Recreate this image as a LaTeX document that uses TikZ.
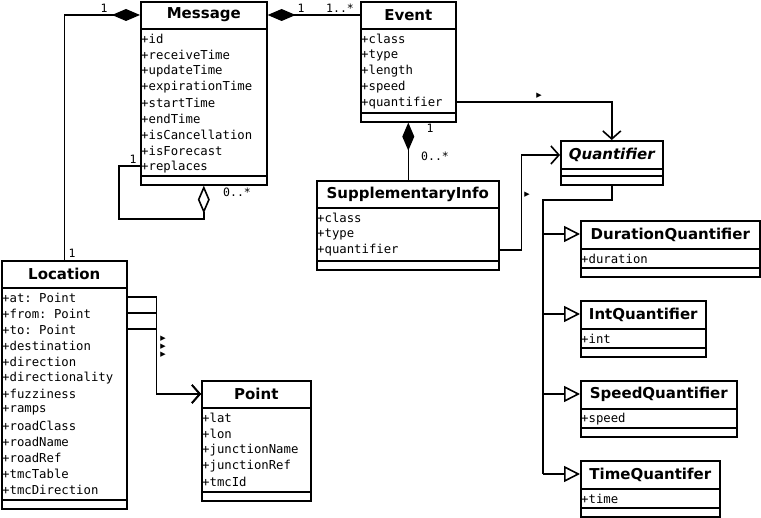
\documentclass[tikz,border=0pt]{standalone}
\usepackage{fontspec}
\setsansfont{DejaVu Sans}
\setmonofont{DejaVu Sans Mono}
\usetikzlibrary{arrows.meta}

\tikzset{
  cls/.style={draw, line width=1.6pt, anchor=north west, inner sep=0pt},
  ttl/.style={font=\sffamily\bfseries\fontsize{15}{15}\selectfont},
  attr/.style={anchor=west, inner sep=1pt, font=\ttfamily\fontsize{12.3}{12}\selectfont},
  mult/.style={font=\ttfamily\fontsize{11.5}{11}\selectfont, inner sep=0pt},
  nav/.style={font=\sffamily\fontsize{7}{7}\selectfont, inner sep=0pt},
  link/.style={line width=1.6pt},
  comp/.style={link, {Diamond[length=28pt,width=12pt]}-},
  aggr/.style={link, -{Diamond[open,length=28pt,width=12pt]}},
  assoc/.style={link, -{Straight Barb[length=8pt,width=18pt]}},
  gen/.style={link, -{Triangle[open,length=16pt,width=16pt]}},
}

% #1 name, #2 x, #3 y, #4 width, #5 title height, #6 attribute height, #7 title, #8 attributes
\newcommand{\umlclass}[8]{%
  \node[cls, minimum width=#4pt, minimum height=#5pt+#6pt+8pt] (#1) at (#2,#3) {};
  \draw[line width=1.6pt] (#1.north west) ++(0,#5) -- ++(#4,0) ++(0,#6) -- ++(-#4,0);
  \path (#1.north) ++(0,#5/2) node[ttl] {#7};
  \foreach \a [count=\i] in {#8}
    \path (#1.north west) ++(0,#5+10+16*\i-16) node[attr] {\a};
}

\begin{document}
\begin{tikzpicture}[x=1pt,y=-1pt]
  \useasboundingbox (0,0) rectangle (761,518);

  \umlclass{msg}{140}{1}{126}{28}{147}{Message}{+id,+receiveTime,+updateTime,+expirationTime,+startTime,+endTime,+isCancellation,+isForecast,+replaces}
  \umlclass{evt}{360}{1}{95}{28}{84}{Event}{+class,+type,+length,+speed,+quantifier}
  \umlclass{sup}{316}{180}{182}{28}{53}{SupplementaryInfo}{+class,+type,+quantifier}
  \umlclass{quant}{560}{140}{102}{29}{7}{\itshape Quantifier}{}
  \umlclass{loc}{1}{260}{125}{28}{212}{Location}{+at: Point,+from: Point,+to: Point,+destination,+direction,+directionality,+fuzziness,+ramps,+roadClass,+roadName,+roadRef,+tmcTable,+tmcDirection}
  \umlclass{pt}{201}{380}{109}{28}{84}{Point}{+lat,+lon,+junctionName,+junctionRef,+tmcId}
  \umlclass{dq}{580}{220}{179}{29}{19}{DurationQuantifier}{+duration}
  \umlclass{iq}{580}{300}{125}{29}{19}{IntQuantifier}{+int}
  \umlclass{sq}{580}{380}{156}{29}{19}{SpeedQuantifier}{+speed}
  \umlclass{tq}{580}{460}{139}{29}{19}{TimeQuantifer}{+time}

  % compositions
  \draw[link, -{Diamond[length=28pt,width=12pt]}] (loc.north) |- ([yshift=-14pt]msg.north west);
  \draw[comp] ([yshift=-14pt]msg.north east) -- ([yshift=-14pt]evt.north west);
  \draw[comp] (evt.south) -- (evt.south |- sup.north);
  \draw[aggr] ([yshift=-165pt]msg.north west) -| ++(-21,53) -| (msg.south);

  % associations
  \draw[assoc] ([yshift=-101pt]evt.north east) -| (quant.north);
  \draw[assoc] ([yshift=-70pt]sup.north east) -- ++(22,0) |- ([yshift=-15pt]quant.north west);
  \foreach \d in {37,53,69}
    \draw[assoc] ([yshift=-\d pt]loc.north east) -- ++(29,0) |- ([yshift=-14pt]pt.north west);

  % generalizations
  \coordinate (trunk) at (543,200);
  \draw[link] (quant.south) |- (trunk) -- (543,474);
  \foreach \c in {dq,iq,sq,tq} {
    \coordinate (\c a) at ([yshift=-14pt]\c.north west);
    \draw[gen] (trunk |- \c a) -- (\c a);
  }

  % multiplicities
  \node[mult] at (104,8) {1};
  \node[mult] at (72,253) {1};
  \node[mult] at (301,8) {1};
  \node[mult] at (340,8) {1..*};
  \node[mult] at (133,159) {1};
  \node[mult] at (237,192) {0..*};
  \node[mult] at (430,128) {1};
  \node[mult] at (435,156) {0..*};

  % navigation marks
  \node[nav] at (539,96) {▶};
  \node[nav] at (527,195) {▶};
  \foreach \y in {339,347,355}
    \node[nav] at (163,\y) {▶};
\end{tikzpicture}
\end{document}
